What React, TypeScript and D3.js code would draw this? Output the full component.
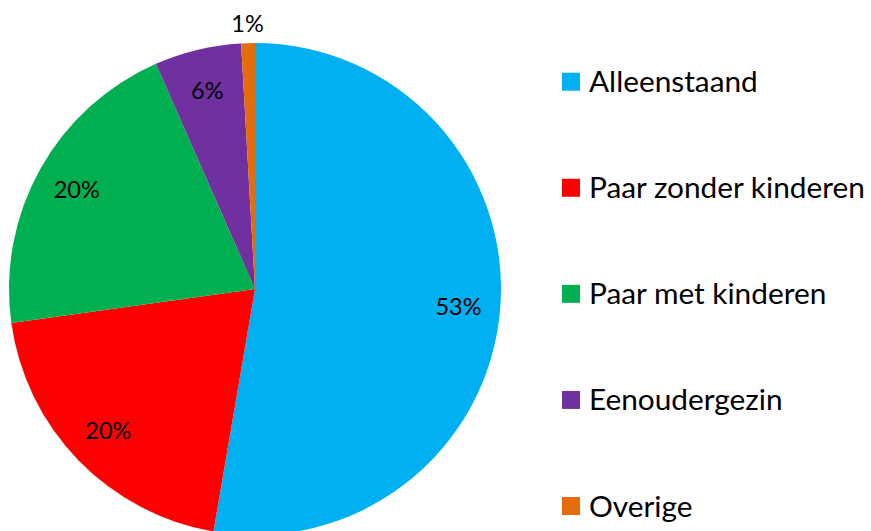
import React, { useEffect, useRef } from 'react';
import * as d3 from 'd3';

const categories = ['Alleenstaand', 'Paar zonder kinderen', 'Paar met kinderen', 'Eenoudergezin', 'Overige'];
const shares = [52.7, 20.1, 20.6, 5.7, 0.9];
const labels = ['53%', '20%', '20%', '6%', '1%'];
const colors = ['#00B0F0', '#FF0000', '#00B050', '#7030A0', '#E46C0A'];

const FONT = 'Lato, "Open Sans", sans-serif';

const App = () => {
  const ref = useRef<SVGSVGElement>(null);

  useEffect(() => {
    const svg = d3.select(ref.current);
    svg.selectAll('*').remove();

    const width = 871;
    const height = 531;
    const cx = 255;
    const cy = 289;
    const radius = 246;

    const data = categories.map((c, i) => ({ name: c, value: shares[i], label: labels[i], color: colors[i] }));

    const pie = d3.pie<any>().value(d => d.value).sort(null);
    const arcs = pie(data);
    const arc = d3.arc<any>().innerRadius(0).outerRadius(radius);
    const insideArc = d3.arc<any>().innerRadius(radius * 0.83).outerRadius(radius * 0.83);
    const outsideArc = d3.arc<any>().innerRadius(radius * 1.08).outerRadius(radius * 1.08);

    svg.attr('width', width).attr('height', height);

    const g = svg.append('g').attr('transform', `translate(${cx},${cy})`);

    g.selectAll('path')
      .data(arcs)
      .enter()
      .append('path')
      .attr('d', arc)
      .attr('fill', d => d.data.color);

    g.selectAll('text.lbl')
      .data(arcs)
      .enter()
      .append('text')
      .attr('class', 'lbl')
      .attr('transform', d => {
        const p = d.data.value < 3 ? outsideArc.centroid(d) : insideArc.centroid(d);
        return `translate(${p[0]},${p[1]})`;
      })
      .attr('dy', '0.35em')
      .attr('text-anchor', 'middle')
      .style('font-family', FONT)
      .style('font-size', '23.5px')
      .style('fill', '#000')
      .text(d => d.data.label);

    const legendY = d3.scalePoint<string>()
      .domain(categories)
      .range([81.7, 506]);

    const legend = svg.append('g')
      .selectAll('g')
      .data(data)
      .enter()
      .append('g')
      .attr('transform', d => `translate(562,${legendY(d.name)})`);

    legend.append('rect')
      .attr('x', 0)
      .attr('y', -9)
      .attr('width', 18)
      .attr('height', 18)
      .attr('fill', d => d.color);

    legend.append('text')
      .attr('x', 27)
      .attr('y', 10.5)
      .style('font-family', FONT)
      .style('font-size', '29.8px')
      .style('fill', '#000')
      .text(d => d.name);
  }, []);

  return (
    <svg ref={ref} style={{ position: 'absolute', left: 0, top: 0, overflow: 'hidden', background: '#fff' }}></svg>
  );
};

export default App;
